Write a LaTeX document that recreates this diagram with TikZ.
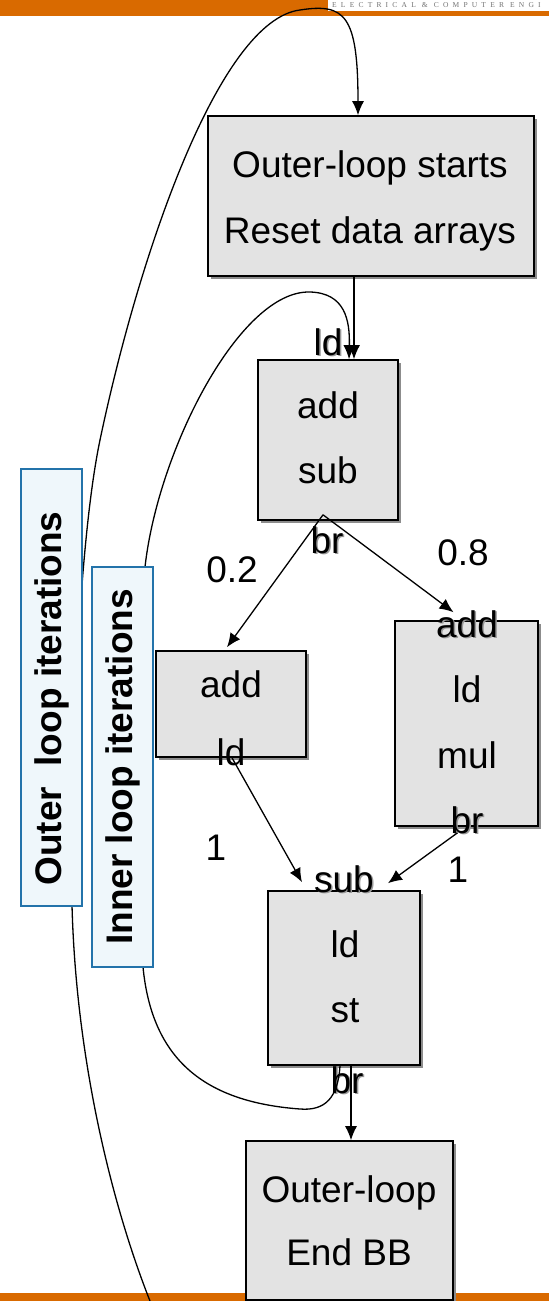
\documentclass[tikz,border=0pt]{standalone}
\usepackage{fontspec}
\setmainfont{Liberation Sans}
\newfontfamily\bannerfont[LetterSpace=56]{Liberation Serif}
\usetikzlibrary{arrows.meta,shadows}

\definecolor{bannerorange}{RGB}{217,106,0}
\definecolor{bbgray}{RGB}{227,227,227}
\definecolor{loopfill}{RGB}{239,247,251}
\definecolor{loopedge}{RGB}{35,115,170}

\tikzset{
  bb/.style={draw, line width=1.6pt, fill=bbgray, inner sep=0pt,
    drop shadow={shadow xshift=3pt, shadow yshift=-3pt, fill=black!45, opacity=1}},
  instr/.style={anchor=base, inner sep=0pt, font=\fontsize{37}{40}\selectfont},
  looplabel/.style={draw=loopedge, fill=loopfill, line width=1.4pt, inner sep=0pt,
    rotate=90, minimum height=61pt, font=\bfseries\fontsize{37}{40}\selectfont},
  flow/.style={->, line width=1.3pt}
}

% instruction sitting on a box edge, with a grey text shadow
\newcommand{\edgeinstr}[3]{%
  \node[instr, text=black!40, xshift=1.5pt, yshift=-1.5pt] (#1s) at (#2) {#3};
  \node[instr] (#1) at (#2) {#3};}

\begin{document}
\begin{tikzpicture}[x=1pt, y=-1pt, >={Latex[length=14pt,width=12pt]}]
\useasboundingbox (0,0) rectangle (549,1301);
% Banner strips
\fill[bannerorange] (0,0) rectangle (549,16);
\fill[white] (328,0) rectangle (549,11);
\node[anchor=base west, inner sep=0pt, text=black!55, font=\bannerfont\fontsize{7.5}{8}\selectfont]
  (banner) at (332,7.5) {ELECTRICAL \& COMPUTER ENGI};
\fill[bannerorange] (0,1293) rectangle (549,1301);

% Basic blocks
\node[bb, minimum width=326pt, minimum height=160pt] (b1) at (371,196) {};
\node[bb, minimum width=140pt, minimum height=160pt] (b2) at (328,440) {};
\node[bb, minimum width=150pt, minimum height=106pt] (b3) at (231,704) {};
\node[bb, minimum width=143pt, minimum height=205pt] (b4) at (466.5,723.5) {};
\node[bb, minimum width=152pt, minimum height=174pt] (b5) at (344,978) {};
\node[bb, minimum width=207pt, minimum height=159pt] (b6) at (349.5,1220.5) {};

% Instructions
\node[instr] (t1a) at (370,177) {Outer-loop starts};
\node[instr] (t1b) at (370,243) {Reset data arrays};
\edgeinstr{t2a}{328,355}{ld}
\node[instr] (t2b) at (328,418) {add};
\node[instr] (t2c) at (328,483) {sub};
\edgeinstr{t2d}{327,553}{br}
\node[instr] (t3a) at (231,697) {add};
\node[instr] (t3b) at (231,765) {ld};
\edgeinstr{t4a}{467,637}{add}
\node[instr] (t4b) at (467,702) {ld};
\node[instr] (t4c) at (467,768) {mul};
\edgeinstr{t4d}{467,833}{br}
\edgeinstr{t5a}{344,892}{sub}
\node[instr] (t5b) at (345,957) {ld};
\node[instr] (t5c) at (345,1022) {st};
\edgeinstr{t5d}{347,1093}{br}
\node[instr] (t6a) at (349,1202) {Outer-loop};
\node[instr] (t6b) at (349,1265) {End BB};

% Branch probabilities
\node[instr] (p02) at (232,582) {0.2};
\node[instr] (p08) at (463,565) {0.8};
\node[instr] (p1l) at (216,860) {1};
\node[instr] (p1r) at (458,882) {1};

% Control flow
\draw[flow] ([xshift=-17pt]b1.south) -- ([xshift=26pt]b2.north);
\draw[flow] ([xshift=-5pt,yshift=6pt]b2.south) -- ([xshift=-4pt,yshift=3pt]b3.north);
\draw[flow] ([xshift=-5pt,yshift=6pt]b2.south) -- ([xshift=-13pt,yshift=8pt]b4.north);
\draw[flow] ([xshift=1pt]b3.south) -- ([xshift=-42pt,yshift=8pt]b5.north);
\draw[flow] ([xshift=-9pt,yshift=-6pt]b4.south) -- ([xshift=44pt,yshift=7pt]b5.north);
\draw[flow] ([xshift=7pt]b5.south) -- ([xshift=1.5pt]b6.north);

% Loop back edges
\coordinate (obot) at (150,1301);
\draw[flow] (obot) .. controls (112,1205) and (76,1060) .. (72,905)
  .. controls (70,760) and (79,540) .. (100,440)
  .. controls (140,250) and (220,20) .. (300,10)
  .. controls (345,3) and (358,15) .. ([xshift=-13pt]b1.north);
\draw[flow] ([xshift=-4pt]b5.south) .. controls (338,1098) and (325,1111) .. (300,1109)
  .. controls (205,1102) and (152,1060) .. (143,967)
  .. controls (136,850) and (138,650) .. (145,567)
  .. controls (158,450) and (240,290) .. (310,292)
  .. controls (345,293) and (350,320) .. ([xshift=21pt]b2.north);

% Loop labels
\node[looplabel, minimum width=437pt] (outerlbl) at (51.5,687.5) {Outer\ \ loop iterations\hspace*{22pt}};
\node[looplabel, minimum width=400pt] (innerlbl) at (122.5,767) {Inner loop iterations};
\end{tikzpicture}
\end{document}
